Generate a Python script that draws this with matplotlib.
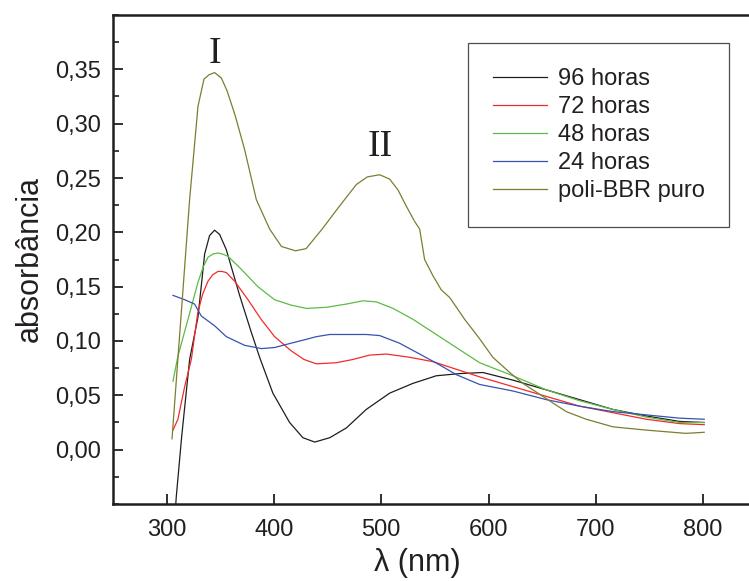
import matplotlib
matplotlib.use("Agg")
import matplotlib.pyplot as plt
from matplotlib.ticker import MultipleLocator, FixedLocator, FuncFormatter

plt.rcParams['font.family'] = ['Liberation Sans', 'DejaVu Sans']

# espectros UV-vis
x_puro = [305, 315.8, 321.4, 329.2, 334.8, 339.5, 344.7, 351, 356.4, 364, 372.7, 383.6, 396,
          407, 420, 430, 445.7, 461, 476.8, 487, 498.5, 507.8, 515.6, 523.4, 531.1, 535.8,
          540.4, 548.2, 556, 563.8, 577.7, 591.7, 604, 619.7, 632, 650.7, 663, 672.5, 691,
          716, 747, 784, 801]
y_puro = [0.010, 0.155, 0.230, 0.316, 0.341, 0.345, 0.347, 0.342, 0.330, 0.307, 0.276, 0.230,
          0.203, 0.187, 0.183, 0.185, 0.204, 0.224, 0.244, 0.251, 0.253, 0.249, 0.239, 0.224,
          0.210, 0.203, 0.175, 0.160, 0.147, 0.140, 0.120, 0.102, 0.085, 0.071, 0.061, 0.049,
          0.041, 0.035, 0.028, 0.021, 0.018, 0.015, 0.016]

x_96 = [306, 309, 314, 321.4, 329.2, 335.4, 340, 344.7, 349.4, 355.6, 361.8, 368, 378.9, 387,
        399, 414.6, 427, 438, 452, 467.5, 486, 507.8, 529.5, 551.3, 573, 594.8, 622.7, 653.9,
        685, 716, 747, 778, 801]
y_96 = [-0.085, -0.043, 0.012, 0.083, 0.122, 0.180, 0.197, 0.202, 0.198, 0.184, 0.163, 0.142,
        0.108, 0.084, 0.052, 0.025, 0.011, 0.007, 0.011, 0.020, 0.037, 0.052, 0.061, 0.068,
        0.070, 0.071, 0.064, 0.055, 0.046, 0.037, 0.031, 0.026, 0.025]

x_72 = [305.9, 310.5, 316.8, 323, 329, 333.5, 338.5, 343, 347.8, 351.5, 355.6, 363.4, 375.8,
        388, 400.6, 416, 428, 439.5, 458, 473.6, 489, 504.8, 526.5, 548.2, 566.8, 591.7,
        622.7, 653.9, 685, 716, 747, 778, 801]
y_72 = [0.018, 0.028, 0.058, 0.083, 0.126, 0.143, 0.155, 0.161, 0.164, 0.164, 0.163, 0.155,
        0.138, 0.120, 0.104, 0.091, 0.083, 0.079, 0.080, 0.083, 0.087, 0.088, 0.085, 0.081,
        0.075, 0.067, 0.058, 0.049, 0.040, 0.034, 0.028, 0.024, 0.023]

x_48 = [305.9, 310.5, 319.9, 329.2, 334, 338.5, 343, 347.8, 352, 357.1, 369.6, 385, 400.6, 416,
        430.2, 448.8, 467.5, 483, 495.4, 511, 529.5, 551.3, 573, 591.7, 622.7, 653.9, 685,
        716, 747, 778, 801]
y_48 = [0.063, 0.086, 0.120, 0.154, 0.168, 0.177, 0.180, 0.181, 0.180, 0.178, 0.166, 0.150,
        0.138, 0.133, 0.130, 0.131, 0.134, 0.137, 0.136, 0.130, 0.120, 0.106, 0.092, 0.080,
        0.068, 0.055, 0.045, 0.037, 0.030, 0.025, 0.025]

x_24 = [305.9, 316.8, 326, 332.3, 344.7, 355.6, 372.7, 388.3, 400.6, 416, 428, 439.5, 452,
        467.5, 486, 498.5, 517, 535.8, 554.4, 570, 591.7, 622.7, 653.9, 685, 716, 747, 778, 801]
y_24 = [0.142, 0.138, 0.134, 0.123, 0.114, 0.104, 0.096, 0.093, 0.094, 0.098, 0.101, 0.104,
        0.106, 0.106, 0.106, 0.105, 0.098, 0.088, 0.078, 0.069, 0.060, 0.054, 0.046, 0.040,
        0.035, 0.032, 0.029, 0.028]

series = [
    (x_96, y_96, '96 horas', '#1e1e1e'),
    (x_72, y_72, '72 horas', '#f42a2a'),
    (x_48, y_48, '48 horas', '#5cbb45'),
    (x_24, y_24, '24 horas', '#3553b0'),
    (x_puro, y_puro, 'poli-BBR puro', '#7d7d32'),
]

dark = '#231f20'

fig = plt.figure(figsize=(7.49, 5.81), dpi=100)
ax = fig.add_axes([113 / 749, 77 / 581, 643.8 / 749, 489 / 581])

for xs, ys, lab, col in series:
    ax.plot(xs, ys, color=col, lw=0.9, label=lab)

ax.set_xlim(250, 850)
ax.set_ylim(-0.05, 0.40)

ax.xaxis.set_major_locator(FixedLocator([300, 400, 500, 600, 700, 800]))
ax.yaxis.set_major_locator(FixedLocator([0, 0.05, 0.10, 0.15, 0.20, 0.25, 0.30, 0.35]))
ax.yaxis.set_minor_locator(MultipleLocator(0.025))
ax.yaxis.set_major_formatter(FuncFormatter(lambda v, p: f"{v:.2f}".replace('.', ',')))

ax.tick_params(axis='both', which='major', direction='in', length=7, width=1.3,
               labelsize=17, colors=dark)
ax.tick_params(axis='x', pad=11)
ax.tick_params(axis='y', pad=9)
ax.tick_params(axis='y', which='minor', direction='in', length=4, width=1.2, colors=dark)

for s in ['left', 'bottom', 'top']:
    ax.spines[s].set_linewidth(1.8)
    ax.spines[s].set_color(dark)
ax.spines['right'].set_visible(False)

ax.set_xlabel('λ (nm)', fontsize=22, color=dark)
ax.set_ylabel('absorbância', fontsize=22, color=dark)
ax.xaxis.set_label_coords(304 / 643.8, -44 / 489)
ax.yaxis.set_label_coords(-68 / 643.8, 0.5)

ax.text(344.7, 0.3555, 'I', family='Liberation Serif', fontsize=27, ha='center',
        va='baseline', color=dark)
ax.text(499.3, 0.270, 'II', family='Liberation Serif', fontsize=27, ha='center',
        va='baseline', color=dark)

leg = ax.legend(loc='upper left', bbox_to_anchor=(468 / 749, 1 - 43 / 581),
                bbox_transform=fig.transFigure, fontsize=17, frameon=True, fancybox=False,
                handlelength=2.3, handletextpad=0.45, labelspacing=0.26, borderpad=1.05,
                borderaxespad=0)
leg.get_frame().set_edgecolor(dark)
leg.get_frame().set_linewidth(0.9)
for t in leg.get_texts():
    t.set_color(dark)

fig.savefig('out.png', dpi=100)
